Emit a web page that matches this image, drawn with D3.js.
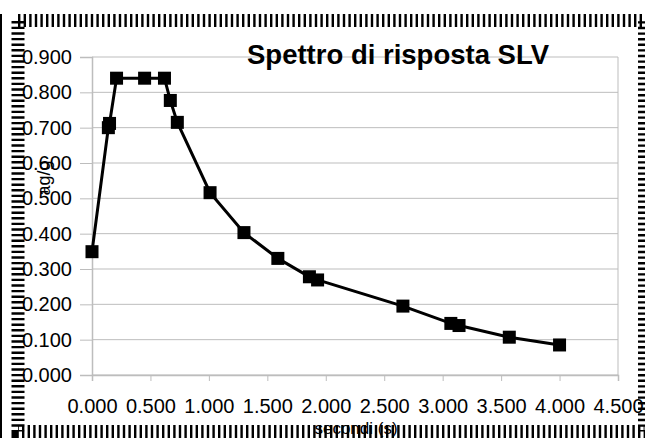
<!DOCTYPE html>
<html>
<head>
<meta charset="utf-8">
<script src="https://cdn.jsdelivr.net/npm/d3@7"></script>
<style>
  body { margin: 0; background: #fff; }
  svg text { font-family: "Liberation Sans", Arial, sans-serif; }
</style>
</head>
<body>
<div id="chart"></div>
<script>
var svgwidth = 645;
var svgheight = 438;

// periodo T (s) e accelerazione spettrale
var periods = [0, 0.14, 0.15, 0.21, 0.45, 0.62, 0.67, 0.73, 1.01, 1.30, 1.59, 1.86, 1.93, 2.66, 3.07, 3.14, 3.57, 4.00];
var accel = [0.349, 0.700, 0.712, 0.840, 0.840, 0.840, 0.777, 0.715, 0.516, 0.403, 0.330, 0.278, 0.269, 0.195, 0.146, 0.140, 0.107, 0.085];
var xticks = [0, 0.5, 1, 1.5, 2, 2.5, 3, 3.5, 4, 4.5];
var yticks = [0, 0.1, 0.2, 0.3, 0.4, 0.5, 0.6, 0.7, 0.8, 0.9];

var margin = { top: 57, right: 27, bottom: 63, left: 92 };
var width = svgwidth - margin.left - margin.right;
var height = svgheight - margin.top - margin.bottom;

var svg = d3.select("#chart")
    .append("svg")
    .attr("width", svgwidth)
    .attr("height", svgheight);

var chart = svg.append("g")
    .attr("transform", `translate(${margin.left}, ${margin.top})`);

var x = d3.scaleLinear().domain([0, 4.5]).range([0, width]);
var y = d3.scaleLinear().domain([0, 0.9]).range([height, 0]);

// griglia orizzontale
chart.selectAll(".grid")
    .data(yticks)
    .enter()
    .append("line")
    .attr("class", "grid")
    .attr("x1", 0)
    .attr("x2", width)
    .attr("y1", function(d) { return y(d); })
    .attr("y2", function(d) { return y(d); })
    .attr("stroke", "#bdbdbd")
    .attr("stroke-width", 1);

// bordo destro area grafico
chart.append("line")
    .attr("x1", width).attr("x2", width)
    .attr("y1", 0).attr("y2", height)
    .attr("stroke", "#bdbdbd");

var leftaxis = d3.axisLeft(y)
    .tickValues(yticks)
    .tickFormat(d3.format(".3f"))
    .tickSize(12)
    .tickPadding(8);

var bottomaxis = d3.axisBottom(x)
    .tickValues(xticks)
    .tickFormat(d3.format(".3f"))
    .tickSize(6)
    .tickPadding(18);

var ya = chart.append("g").call(leftaxis);
var xa = chart.append("g").attr("transform", `translate(0, ${height})`).call(bottomaxis);

[ya, xa].forEach(function(a) {
    a.select(".domain").attr("stroke", "#bdbdbd").attr("stroke-width", 1.5);
    a.selectAll(".tick line").attr("stroke", "#bdbdbd");
    a.selectAll(".tick text")
        .attr("fill", "#000")
        .style("font-size", "20px");
});

var line = d3.line()
    .x(function(d, i) { return x(periods[i]); })
    .y(function(d) { return y(d); });

chart.append("path")
    .datum(accel)
    .attr("d", line)
    .attr("fill", "none")
    .attr("stroke", "#000")
    .attr("stroke-width", 3);

chart.selectAll(".pt")
    .data(accel)
    .enter()
    .append("rect")
    .attr("class", "pt")
    .attr("x", function(d, i) { return x(periods[i]) - 6.5; })
    .attr("y", function(d) { return y(d) - 6.5; })
    .attr("width", 13)
    .attr("height", 13)
    .attr("fill", "#000");

// titolo
svg.append("text")
    .attr("x", 247)
    .attr("y", 64)
    .style("font-size", "27.5px")
    .style("font-weight", "bold")
    .text("Spettro di risposta SLV");

// titolo asse y
svg.append("text")
    .attr("transform", "translate(50, 178) rotate(-90)")
    .attr("text-anchor", "middle")
    .style("font-size", "18px")
    .text("ag/g");

// cornice tratteggiata
svg.append("rect")
    .attr("x", 18)
    .attr("y", 20.5)
    .attr("width", 626.5)
    .attr("height", 411)
    .attr("fill", "none")
    .attr("stroke", "#000")
    .attr("stroke-width", 13)
    .attr("stroke-dasharray", "2.4,3.2");

svg.append("rect")
    .attr("x", 0).attr("y", 14)
    .attr("width", 2).attr("height", 424)
    .attr("fill", "#000");

// titolo asse x
svg.append("text")
    .attr("x", 356)
    .attr("y", 434)
    .attr("text-anchor", "middle")
    .style("font-size", "17px")
    .text("secondi (s)");
</script>
</body>
</html>
